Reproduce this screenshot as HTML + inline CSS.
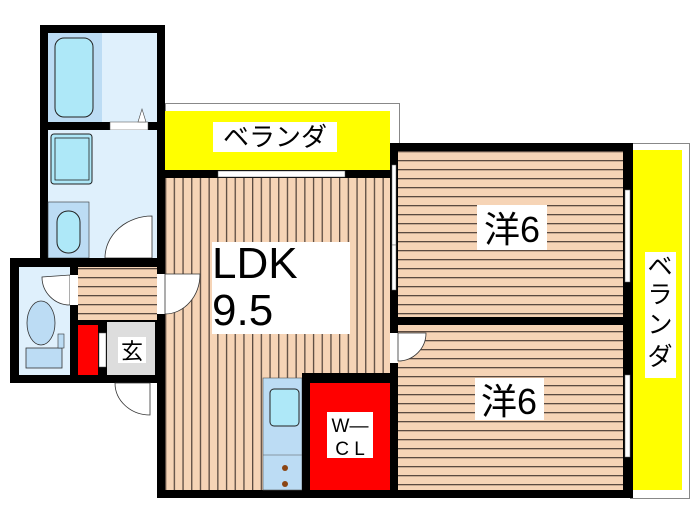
<!DOCTYPE html>
<html><head><meta charset="utf-8"><style>
html,body{margin:0;padding:0;background:#fff;width:700px;height:525px;overflow:hidden}
svg{display:block}
text{font-family:"Liberation Sans","Noto Sans CJK JP",sans-serif;fill:#000}
</style></head><body>
<svg width="700" height="525" viewBox="0 0 700 525" xmlns="http://www.w3.org/2000/svg">
<defs>
<pattern id="vs" x="165" y="0" width="8.7" height="10" patternUnits="userSpaceOnUse">
<rect width="8.7" height="10" fill="#f6d4b6"/><rect x="0" width="1.3" height="10" fill="#5a4a40"/></pattern>
<pattern id="hs" x="0" y="151" width="10" height="9" patternUnits="userSpaceOnUse">
<rect width="10" height="9" fill="#f6d4b6"/><rect y="0" width="10" height="1.3" fill="#5a4a40"/></pattern>
</defs>

<!-- right veranda -->
<rect x="630.5" y="143.5" width="59" height="355" fill="#fff" stroke="#888" stroke-width="1"/>
<rect x="633" y="150" width="49" height="340" fill="#ffff00"/>
<!-- top veranda -->
<rect x="165.5" y="103.5" width="234" height="74" fill="#fff" stroke="#888" stroke-width="1"/>
<rect x="165" y="111" width="225" height="59" fill="#ffff00"/>
<rect x="213" y="122" width="124" height="30" fill="#fff"/>
<text x="275" y="146" font-size="26" text-anchor="middle">ベランダ</text>

<!-- bath block -->
<rect x="40" y="25" width="125" height="237" fill="#000"/>
<rect x="48" y="33" width="109" height="89" fill="#dff0fc"/>
<rect x="48" y="33" width="54" height="89" fill="#bcdcf4"/>
<rect x="55" y="38" width="38" height="79" rx="9" fill="#aee8f8" stroke="#222" stroke-width="1"/>
<rect x="110" y="122" width="38" height="8" fill="#fff" stroke="#444" stroke-width="0.5"/>
<path d="M138 122 L142 109 L146 122Z" fill="#fff" stroke="#444" stroke-width="0.6"/>
<rect x="48" y="130" width="109" height="128" fill="#dff0fc"/>
<rect x="51" y="134" width="41" height="50" rx="3" fill="#aee8f8" stroke="#222" stroke-width="1"/>
<rect x="55" y="138" width="34" height="42" fill="#aee8f8" stroke="#222" stroke-width="0.8"/>
<rect x="48" y="202" width="41" height="56" fill="#bcdcf4" stroke="#333" stroke-width="0.6"/>
<rect x="57" y="211" width="23" height="42" rx="11" fill="#aee8f8" stroke="#222" stroke-width="1"/>
<path d="M152 216 L152 258 L105 258 A47 42 0 0 1 152 216Z" fill="#fff" stroke="#333" stroke-width="0.8"/>

<!-- toilet block -->
<rect x="10" y="258" width="150" height="125" fill="#000"/>
<rect x="19" y="267" width="51" height="108" fill="#dff0fc"/>
<ellipse cx="41" cy="323" rx="14" ry="22" fill="#bcdcf4" stroke="#333" stroke-width="0.8"/>
<rect x="26" y="348" width="36" height="20" fill="#bcdcf4" stroke="#333" stroke-width="0.8"/>
<rect x="58" y="334" width="6" height="14" fill="#bcdcf4" stroke="#333" stroke-width="0.6"/>
<path d="M70 275 L70 305 A28 28 0 0 1 42 277 Z" fill="#fff" stroke="#333" stroke-width="0.8"/>
<rect x="70" y="275" width="8" height="30" fill="#fff"/>
<rect x="78" y="267" width="79" height="53" fill="url(#hs)"/>
<rect x="78" y="325" width="20" height="50" fill="#ff0000"/>
<rect x="107" y="322" width="48" height="53" fill="#ddd"/>
<rect x="99" y="333" width="7" height="34" fill="#fff" stroke="#555" stroke-width="0.5"/>
<rect x="118" y="337" width="28" height="26" fill="#fff"/>
<text x="132" y="359" font-size="22" text-anchor="middle">玄</text>
<path d="M115 383 L150 383 L150 415 A35 32 0 0 1 115 383Z" fill="#fff" stroke="#333" stroke-width="0.8"/>

<!-- main walls -->
<rect x="157" y="170" width="476" height="328" fill="#000"/>
<rect x="390" y="143" width="243" height="30" fill="#000"/>
<rect x="165" y="178" width="225" height="312" fill="url(#vs)"/>
<rect x="218" y="171" width="127" height="6" fill="#fff" stroke="#555" stroke-width="0.5"/>
<!-- LDK door to hall -->
<rect x="157" y="274" width="8" height="40" fill="#fff"/>
<path d="M165 274 L200 274 A35 40 0 0 1 165 314Z" fill="#fff" stroke="#333" stroke-width="0.8"/>
<rect x="212" y="242" width="138" height="92" fill="#fff"/>
<text x="212" y="278" font-size="44">LDK</text>
<text x="212" y="325" font-size="44">9.5</text>

<!-- rooms -->
<rect x="398" y="151" width="225" height="166" fill="url(#hs)"/>
<rect x="398" y="325" width="225" height="165" fill="url(#hs)"/>
<rect x="392" y="165" width="4" height="80" fill="#fff" stroke="#666" stroke-width="0.5"/>
<rect x="392" y="245" width="4" height="45" fill="#fff" stroke="#666" stroke-width="0.5"/>
<rect x="625" y="190" width="5" height="92" fill="#fff" stroke="#666" stroke-width="0.5"/>
<rect x="625" y="375" width="5" height="82" fill="#fff" stroke="#666" stroke-width="0.5"/>
<rect x="390" y="333" width="8" height="30" fill="#fff"/>
<path d="M398 333 L426 333 A28 28 0 0 1 398 361Z" fill="#fff" stroke="#333" stroke-width="0.8"/>
<rect x="477" y="205" width="70" height="45" fill="#fff"/>
<text x="512" y="242" font-size="36" text-anchor="middle">洋6</text>
<rect x="475" y="378" width="69" height="42" fill="#fff"/>
<text x="509" y="414" font-size="36" text-anchor="middle">洋6</text>
<rect x="645" y="252" width="31" height="126" fill="#fff"/>
<text x="660" y="275" font-size="25" text-anchor="middle">ベ</text>
<text x="660" y="303" font-size="25" text-anchor="middle">ラ</text>
<text x="660" y="333" font-size="25" text-anchor="middle">ン</text>
<text x="660" y="365" font-size="25" text-anchor="middle">ダ</text>

<!-- kitchen -->
<rect x="263" y="378" width="39" height="112" fill="#bcdcf4" stroke="#555" stroke-width="0.6"/>
<rect x="270" y="389" width="29" height="37" rx="4" fill="#aee8f8" stroke="#222" stroke-width="1"/>
<line x1="263" y1="455" x2="302" y2="455" stroke="#555" stroke-width="0.6"/>
<circle cx="285" cy="468" r="3" fill="#8b4513"/>
<circle cx="285" cy="484" r="3" fill="#8b4513"/>
<!-- WCL -->
<rect x="302" y="373" width="93" height="125" fill="#000"/>
<rect x="310" y="383" width="80" height="107" fill="#ff0000"/>
<rect x="327" y="412" width="46" height="46" fill="#fff"/>
<text x="350" y="432" font-size="19" text-anchor="middle">W—</text>
<text x="350" y="455" font-size="19" text-anchor="middle">C L</text>
</svg>
</body></html>
